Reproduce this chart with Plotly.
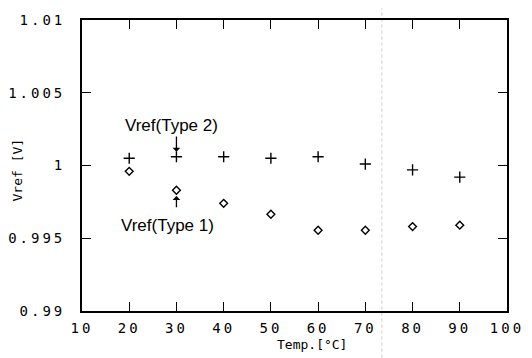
import plotly.graph_objects as go

temps = [20, 30, 40, 50, 60, 70, 80, 90]
vref_type2 = [1.0005, 1.0006, 1.0006, 1.0005, 1.0006, 1.0001, 0.9997, 0.9992]
vref_type1 = [0.9996, 0.9983, 0.9974, 0.99665, 0.99555, 0.99555, 0.9958, 0.9959]
x_ticks = [10, 20, 30, 40, 50, 60, 70, 80, 90, 100]
x_labels = ["10", "20", "30", "40", "50", "60", "70", "80", "90", "100"]
y_ticks = [0.99, 0.995, 1.0, 1.005, 1.01]
y_labels = ["0.99", "0.995", "1", "1.005", "1.01"]

mono = "DejaVu Sans Mono"

W, H = 532, 358
L, R, T, B = 82, 18, 13, 47
pw, ph = W - L - R, H - T - B

fig = go.Figure()
fig.add_trace(go.Scatter(x=temps, y=vref_type2, mode="markers", name="Vref(Type 2)",
                         marker=dict(symbol="cross-thin", size=8, line=dict(color="black", width=1.4))))
fig.add_trace(go.Scatter(x=temps, y=vref_type1, mode="markers", name="Vref(Type 1)",
                         marker=dict(symbol="diamond-open", size=6, color="black", line=dict(color="black", width=1.4))))

axis_common = dict(showgrid=False, zeroline=False, showline=True, linecolor="black", linewidth=1.8,
                   mirror="ticks", ticks="inside", ticklen=9, tickwidth=1.4, tickcolor="black",
                   tickfont=dict(family=mono, size=14, color="black"))
fig.update_xaxes(range=[10, 100], tickvals=x_ticks, ticktext=x_labels, ticklabelstandoff=3, **axis_common)
fig.update_yaxes(range=[0.99, 1.01], tickvals=y_ticks, ticktext=y_labels, ticklabelstandoff=12, **axis_common)

# scan fold line
fig.add_shape(type="line", xref="x", yref="paper", x0=73.5, x1=73.5, y0=-0.16, y1=1.04,
              line=dict(color="#c8c8c8", width=1, dash="dot"), layer="below")

ann_font = dict(family="Liberation Sans", size=17, color="black")
fig.add_annotation(x=29.0, y=1.00277, xref="x", yref="y", text="Vref(Type 2)", showarrow=False, font=ann_font)
fig.add_annotation(x=28.1, y=0.99588, xref="x", yref="y", text="Vref(Type 1)", showarrow=False, font=ann_font)
fig.add_annotation(x=30, y=1.00095, xref="x", yref="y", ax=30, ay=1.0021, axref="x", ayref="y",
                   text="", showarrow=True, arrowhead=1, arrowsize=1, arrowwidth=1.3, arrowcolor="black")
fig.add_annotation(x=30, y=0.9979, xref="x", yref="y", ax=30, ay=0.99703, axref="x", ayref="y",
                   text="", showarrow=True, arrowhead=1, arrowsize=1, arrowwidth=1.3, arrowcolor="black")

fig.add_annotation(x=(316 - L) / pw, y=(H - B - 345) / ph, xref="paper", yref="paper",
                   xanchor="center", yanchor="middle", text="Temp.[°C]", showarrow=False,
                   font=dict(family=mono, size=13, color="black"))
fig.add_annotation(text="Vref [V]", textangle=-90, showarrow=False, xref="paper", yref="paper",
                   xanchor="center", yanchor="middle",
                   x=(16 - L) / pw, y=(H - B - 167) / ph, font=dict(family=mono, size=13, color="black"))

fig.update_layout(width=W, height=H, margin=dict(l=L, r=R, t=T, b=B),
                  plot_bgcolor="white", paper_bgcolor="white", showlegend=False)

post = """
document.querySelectorAll('.xtick text, .ytick text').forEach(function(t){t.style.letterSpacing='3px';});
"""
fig.write_html("out.html", post_script=post)
